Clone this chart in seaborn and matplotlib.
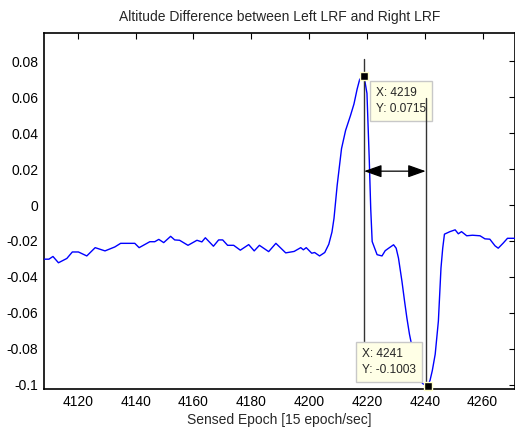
import matplotlib
matplotlib.use("Agg")
import matplotlib.pyplot as plt
import seaborn as sns
import pandas as pd

# ---- data ----
epoch = [4108.3, 4110.0, 4111.4, 4113.3, 4116.2, 4118.1, 4120.2, 4123.1, 4126.0, 4129.4,
         4132.8, 4134.8, 4139.7, 4141.2, 4144.9, 4146.6, 4148.0, 4149.7, 4152.1, 4153.5,
         4155.2, 4158.1, 4161.2, 4162.9, 4164.1, 4166.9, 4168.7, 4170.1, 4171.8, 4173.9,
         4176.2, 4179.1, 4181.0, 4182.8, 4186.0, 4188.5, 4191.9, 4194.8, 4197.1, 4198.0,
         4199.0, 4200.9, 4201.9, 4203.6, 4205.4, 4206.8, 4207.9, 4208.6, 4209.7, 4211.2,
         4212.6, 4214.3, 4215.5, 4216.6, 4217.5, 4219.0, 4220.0, 4220.8, 4221.3, 4221.8,
         4223.5, 4225.2, 4226.3, 4227.5, 4229.2, 4230.1, 4230.9, 4232.1, 4233.0, 4233.8,
         4234.7, 4236.0, 4237.3, 4238.3, 4239.5, 4241.0, 4241.8, 4242.6, 4243.6, 4244.7,
         4245.6, 4246.2, 4246.8, 4248.7, 4250.5, 4251.6, 4252.7, 4254.5, 4256.5, 4259.1,
         4260.8, 4262.5, 4264.3, 4265.4, 4267.1, 4268.6, 4271.2]
alt_diff = [-0.0301, -0.0301, -0.0286, -0.0321, -0.0297, -0.0261, -0.0261, -0.0283, -0.0237, -0.0255,
            -0.0233, -0.0213, -0.0213, -0.0237, -0.0204, -0.0204, -0.0191, -0.0209, -0.0174, -0.0194,
            -0.0196, -0.0224, -0.0196, -0.0205, -0.0182, -0.0229, -0.0194, -0.0194, -0.0224, -0.0224,
            -0.0251, -0.0220, -0.0255, -0.0224, -0.0259, -0.0213, -0.0266, -0.0258, -0.0237, -0.0249,
            -0.0237, -0.0268, -0.0264, -0.0283, -0.0264, -0.0218, -0.0150, -0.0074, 0.0110, 0.0313,
            0.0414, 0.0497, 0.0561, 0.0644, 0.0699, 0.0715, 0.0620, 0.0250, -0.0020, -0.0203,
            -0.0276, -0.0283, -0.0254, -0.0240, -0.0221, -0.0240, -0.0295, -0.0424, -0.0534, -0.0627,
            -0.0718, -0.0820, -0.0920, -0.0975, -0.0995, -0.1003, -0.0975, -0.0920, -0.0829, -0.0645,
            -0.0350, -0.0240, -0.0162, -0.0148, -0.0138, -0.0160, -0.0148, -0.0171, -0.0168, -0.0171,
            -0.0188, -0.0190, -0.0227, -0.0240, -0.0212, -0.0185, -0.0185]

tip_x = [4219, 4241]
tip_y = [0.0715, -0.1003]
tip_labels = ["X: 4219\nY: 0.0715", "X: 4241\nY: -0.1003"]
guide_x = [4219.0, 4240.3]
guide_top = [0.081, 0.0594]
guide_bottom = [-0.09, -0.0986]
arrow_y = 0.0188

xticks = [4120, 4140, 4160, 4180, 4200, 4220, 4240, 4260]
yticks = [0.08, 0.06, 0.04, 0.02, 0.0, -0.02, -0.04, -0.06, -0.08, -0.1]
ytick_labels = ["0.08", "0.06", "0.04", "0.02", "0", "-0.02", "-0.04", "-0.06", "-0.08", "-0.1"]

title = "Altitude Difference between Left LRF and Right LRF"
xlabel = "Sensed Epoch [15 epoch/sec]"

df = pd.DataFrame({"epoch": epoch, "diff": alt_diff})

sns.set_theme(style="white")
plt.rcParams["font.family"] = ["Liberation Sans", "DejaVu Sans"]

fig = plt.figure(figsize=(5.15, 4.28), dpi=100)
ax = fig.add_axes([44 / 515, 1 - 389.3 / 428, (515 - 44) / 515, (389.3 - 33.3) / 428])

sns.lineplot(data=df, x="epoch", y="diff", ax=ax, color="#0000ff", lw=1.0,
             estimator=None, sort=False, zorder=3)

ax.set_xlim(4108.3, 4271.2)
ax.set_ylim(-0.1024, 0.0954)
ax.set_xticks(xticks)
ax.set_xticklabels([str(t) for t in xticks])
ax.set_yticks(yticks)
ax.set_yticklabels(ytick_labels)

for s in ax.spines.values():
    s.set_color("black")
    s.set_linewidth(1.2)
ax.tick_params(direction="in", length=4, width=0.8, top=True, right=True,
               labelsize=10, colors="black", pad=4)
ax.set_xlabel(xlabel, fontsize=10, labelpad=3)
ax.set_ylabel("")
ax.set_title(title, fontsize=10, pad=9)

# guide lines (the second one is drawn over the upper data tip)
for gx, gt, gb, z in zip(guide_x, guide_top, guide_bottom, [4, 6.5]):
    ax.plot([gx, gx], [gb, gt], color="#333333", lw=1.0, zorder=z)

# double arrow
ax.annotate("", xy=(guide_x[0], arrow_y), xytext=(guide_x[1], arrow_y),
            arrowprops=dict(arrowstyle="<|-|>,head_length=0.9,head_width=0.32",
                            color="black", lw=0.9, mutation_scale=12,
                            shrinkA=0, shrinkB=0), zorder=5)

# data tips
box = dict(boxstyle="square,pad=0.5", fc="#ffffe6", ec="#c8c8c8", lw=1.0)
ax.annotate(tip_labels[0], xy=(tip_x[0], tip_y[0]), xytext=(8.5, -7.5),
            textcoords="offset points", ha="left", va="top", fontsize=8.6,
            linespacing=1.45, multialignment="left", bbox=box, zorder=6)
ax.annotate(tip_labels[1], xy=(tip_x[1], tip_y[1]), xytext=(-8.5, 6.5),
            textcoords="offset points", ha="right", va="bottom", fontsize=8.6,
            linespacing=1.45, multialignment="left", bbox=box, zorder=6)

ax.scatter(tip_x, tip_y, marker="s", s=36, color="black", edgecolors="#ffffcc",
           linewidths=1.0, zorder=7, clip_on=False)

fig.savefig("out.png", dpi=100)
